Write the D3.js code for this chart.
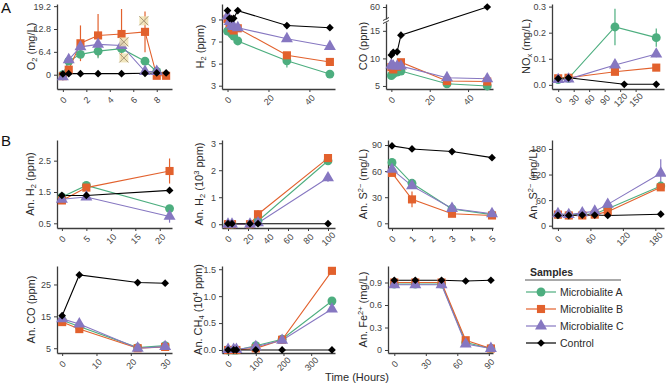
<!DOCTYPE html>
<html>
<head>
<meta charset="utf-8">
<script src="https://cdn.jsdelivr.net/npm/d3@7"></script>
<style>
  body { margin: 0; background: #fff; }
  svg { font-family: "Liberation Sans", Arial, sans-serif; }
</style>
</head>
<body>
<svg id="chart" width="666" height="384"></svg>
<script>
const seriesNames = ['Microbialite A', 'Microbialite B', 'Microbialite C', 'Control'];
const seriesColors = ['#4dae7f', '#e2612d', '#8677c1', '#000000'];

// each row: hours, A, B, C, control (null = not measured)
const o2Rows = [
  [0, 0.0, -0.4, -0.6, 0.2],
  [0.5, 3.8, 1.4, 4.2, 0.3],
  [1.5, 5.7, 8.8, 7.8, 0.3],
  [3, 6.6, 11.0, 8.5, 0.3],
  [5, 7.3, 11.4, 8.2, 0.3],
  [7, 3.8, 12.0, 0.9, 0.4],
  [8, 0.9, -0.3, 0.9, 0.5],
  [8.8, null, -0.3, null, 0.5]
];
// error bars: hours, series index, sd
const o2Err = [[0, 1, 1.0], [0, 2, 1.0], [0.5, 2, 1.5], [1.5, 1, 5.0], [3, 1, 6.0], [3, 0, 2.0], [5, 1, 7.0], [7, 1, 5.7], [7, 0, 1.0]];
// excluded O2 readings (hours, mg/L)
const o2Excluded = [[5.2, 9.2], [5.2, 4.7], [6.9, 15.1]];

const h2Rows = [
  [0, 7.95, 9.05, 9.3, 9.8],
  [1, null, 8.65, 8.8, 9.1],
  [2, 7.7, 8.2, 8.5, 9.05],
  [3, 7.5, 8.0, 8.35, 9.1],
  [5, 7.05, 8.2, 8.25, 9.8],
  [29, 5.25, 5.75, 7.25, 8.45],
  [50, 4.05, 5.15, 6.55, 8.25]
];
const h2Err = [[29, 0, 0.6]];

const coRows = [
  [0, 6.9, 8.4, 8.8, 10.6],
  [1, 7.2, 8.0, 8.6, 11.1],
  [3, 7.5, 8.5, 8.6, 11.2],
  [5, 7.7, 9.3, 8.6, 14.2],
  [29, 5.4, 5.9, 6.5, null],
  [50, 5.0, 5.8, 6.3, 60]
];

const noxRows = [
  [0, 0.020, 0.025, 0.020, 0.024],
  [20, 0.025, 0.027, 0.022, 0.027],
  [110, 0.222, 0.050, 0.076, null],
  [128, null, null, null, 0.002],
  [190, 0.181, 0.066, 0.118, 0.002]
];
const noxErr = [[110, 0, 0.07], [190, 0, 0.035], [190, 2, 0.012], [190, 1, 0.01]];

const anH2Rows = [
  [0, 1.34, 1.23, 1.27, 1.39],
  [5, 1.71, 1.64, 1.34, 1.39],
  [22, 0.97, 2.17, 0.72, 1.55]
];
const anH2Err = [[22, 1, 0.4], [22, 2, 0.2], [0, 1, 0.05]];

const anH2kRows = [
  [0, 0, 0, 0, 0.02],
  [4, 0, 0, 0, 0.02],
  [22, 0, 0, 0, 0.02],
  [30, 0.12, 0.37, 0.05, 0.02],
  [100, 2.35, 2.45, 1.72, 0.02]
];
const anH2kErr = [[100, 1, 0.1], [100, 2, 0.15], [30, 1, 0.15]];

const anS1Rows = [
  [0, 70, 58, 62, 89],
  [1, 46, 27.5, 43, 85.5],
  [3, 16.5, 11, 17, 82.5],
  [5, 10, 9, 11, 75.5]
];
const anS1Err = [[1, 1, 9], [0, 0, 3]];

const anS2Rows = [
  [0, 26, 26, 28, 24],
  [20, 25, 24, 26, 24],
  [45, 26, 24, 30, 25],
  [68, 28, 26, 34, 25],
  [92, 40, 33, 50, 24],
  [190, 93, 90, 123, 27]
];
const anS2Err = [[190, 2, 33], [190, 1, 6], [92, 2, 8]];

const anCoRows = [
  [0, 13.8, 13.2, 14.2, 15.2],
  [5, 11.8, 11.0, 12.6, 28.0],
  [22, 5.2, 5.0, 5.0, 25.6],
  [30, 5.8, 5.4, 5.5, 25.4]
];

const anCh4Rows = [
  [0, 0, 0, 0.01, 0],
  [20, 0, 0, 0.01, 0],
  [30, 0, 0, 0.01, 0],
  [100, 0.08, 0.03, 0.06, 0],
  [195, 0.2, 0.19, 0.18, 0],
  [375, 0.91, 1.47, 0.76, 0]
];

const anFeRows = [
  [0, 0.88, 0.90, 0.87, 0.93],
  [20, 0.88, 0.90, 0.87, 0.93],
  [45, 0.88, 0.90, 0.87, 0.93],
  [68, 0.10, 0.13, 0.08, 0.92],
  [92, 0.02, 0.02, 0.02, 0.93]
];

const f1 = d3.format('.1f');
const plain = d => String(d);

const panels = [
  { rows: o2Rows, err: o2Err, left: 57, right: 172, top: 4, bottom: 89, xDomain: [-0.5, 9.3], yDomain: [-4, 19.8],
    xTicks: [0, 2, 4, 6, 8], yTicks: [0, 6.4, 12.8, 19.2], title: ['O', ['2', 'sub'], ' (mg/L)'], titleX: 31 },
  { rows: h2Rows, err: h2Err, left: 222, right: 335, top: 4, bottom: 89, xDomain: [-2.7, 52.5], yDomain: [2.7, 10.4],
    xTicks: [0, 20, 40], yTicks: [3, 5, 7, 9], title: ['H', ['2', 'sub'], ' (ppm)'], titleX: 200 },
  { rows: coRows, err: [], left: 386, right: 493, top: 22, bottom: 89, xDomain: [-2.8, 53], yDomain: [4.45, 16.6],
    upper: { domain: [56, 61], range: [19, 4], ticks: [60] },
    xTicks: [0, 20, 40], yTicks: [5, 10, 15], title: ['CO (ppm)'], titleX: 363, titleY: 46 },
  { rows: noxRows, err: noxErr, left: 552, right: 664, top: 4, bottom: 89, xDomain: [-12, 205], yDomain: [-0.016, 0.31],
    xTicks: [0, 30, 60, 90, 120, 150], yTicks: [0, 0.1, 0.2, 0.3], yFormat: f1, title: ['NO', ['x', 'sub'], ' (mg/L)'], titleX: 526 },
  { rows: anH2Rows, err: anH2Err, left: 57, right: 172, top: 140, bottom: 228, xDomain: [-1, 22.5], yDomain: [0.35, 3.16],
    xTicks: [0, 5, 10, 15, 20], yTicks: [0.5, 1.5, 2.5], title: ['An. H', ['2', 'sub'], ' (ppm)'], titleX: 30 },
  { rows: anH2kRows, err: anH2kErr, left: 222, right: 335, top: 140, bottom: 228, xDomain: [-6, 107], yDomain: [-0.14, 3.12],
    xTicks: [0, 20, 40, 60, 80, 100], yTicks: [0, 1, 2, 3], title: ['An. H', ['2', 'sub'], ' (10', ['3', 'sup'], ' ppm)'], titleX: 199 },
  { rows: anS1Rows, err: anS1Err, left: 388, right: 493, top: 140, bottom: 228, xDomain: [-0.2, 5.05], yDomain: [-5.4, 95.8],
    xTicks: [0, 1, 2, 3, 4, 5], yTicks: [0, 30, 60, 90], title: ['An. S', ['2\u2212', 'sup'], ' (mg/L)'], titleX: 363 },
  { rows: anS2Rows, err: anS2Err, left: 552, right: 664, top: 140, bottom: 228, xDomain: [-11, 196], yDomain: [-5.4, 201],
    xTicks: [0, 60, 120, 180], yTicks: [0, 60, 120, 180], title: ['An. S', ['2\u2212', 'sup'], ' (mg/L)'], titleX: 533 },
  { rows: anCoRows, err: [], left: 57, right: 172, top: 266, bottom: 353, xDomain: [-1.5, 32], yDomain: [3.5, 30.8],
    xTicks: [0, 10, 20, 30], yTicks: [5, 15, 25], title: ['An. CO (ppm)'], titleX: 31 },
  { rows: anCh4Rows, err: [], left: 222, right: 335, top: 266, bottom: 353, xDomain: [-22, 386], yDomain: [-0.056, 1.56],
    xTicks: [0, 100, 200, 300], yTicks: [0, 0.5, 1, 1.5], yFormat: f1, title: ['An. CH', ['4', 'sub'], ' (10', ['4', 'sup'], ' ppm)'], titleX: 198 },
  { rows: anFeRows, err: [], left: 388, right: 493, top: 266, bottom: 353, xDomain: [-6, 94], yDomain: [-0.04, 1.12],
    xTicks: [0, 30, 60, 90], yTicks: [0, 0.3, 0.6, 0.9], yFormat: d => d === 0 ? '0' : f1(d), title: ['An. Fe', ['2+', 'sup'], ' (mg/L)'], titleX: 363 }
];

const svg = d3.select('#chart');

// marker for a series index
function marker(sel, s) {
  const shapes = [d3.symbolCircle, d3.symbolSquare, d3.symbolTriangle, d3.symbolSquare];
  const sizes = [62, 66, 62, 30];
  sel.append('path')
    .attr('d', d3.symbol(shapes[s], sizes[s]))
    .attr('transform', s === 3 ? 'rotate(45)' : null)
    .attr('fill', seriesColors[s]);
}

function styleAxis(ax) {
  ax.select('.domain').attr('stroke', '#3c3c3c').attr('stroke-width', 1.3);
  ax.selectAll('.tick line').attr('stroke', '#3c3c3c').attr('stroke-width', 1);
  ax.selectAll('.tick text').attr('fill', '#444').attr('font-size', 9);
}

function addTitle(g, parts, x, y) {
  const t = g.append('text')
    .attr('transform', `translate(${x},${y}) rotate(-90)`)
    .attr('text-anchor', 'middle')
    .attr('dy', '0.35em')
    .attr('font-size', 11)
    .attr('fill', '#2a2a2a');
  parts.forEach(part => {
    if (typeof part === 'string') t.append('tspan').text(part);
    else t.append('tspan')
      .attr('font-size', 7.5)
      .attr('baseline-shift', part[1] === 'sub' ? '-22%' : '45%')
      .text(part[0]);
  });
}

function drawPanel(p) {
  const g = svg.append('g');
  const x = d3.scaleLinear().domain(p.xDomain).range([p.left, p.right]);
  const y = d3.scaleLinear().domain(p.yDomain).range([p.bottom, p.top]);
  let yPos = y;
  let yUp = null;
  if (p.upper) {
    yUp = d3.scaleLinear().domain(p.upper.domain).range(p.upper.range);
    yPos = v => (v >= p.upper.domain[0] ? yUp(v) : y(v));
  }

  // x axis
  const xa = g.append('g')
    .attr('transform', `translate(0,${p.bottom})`)
    .call(d3.axisBottom(x).tickValues(p.xTicks).tickSize(3).tickSizeOuter(0).tickFormat(plain));
  xa.selectAll('.tick text')
    .attr('y', 0).attr('dy', 0)
    .attr('text-anchor', 'middle')
    .attr('dominant-baseline', 'central')
    .attr('transform', 'translate(0,11) rotate(-45)');
  styleAxis(xa);

  // y axis
  const ya = g.append('g')
    .attr('transform', `translate(${p.left},0)`)
    .call(d3.axisLeft(y).tickValues(p.yTicks).tickSize(3).tickSizeOuter(0).tickFormat(p.yFormat || plain));
  styleAxis(ya);
  if (yUp) {
    const yb = g.append('g')
      .attr('transform', `translate(${p.left},0)`)
      .call(d3.axisLeft(yUp).tickValues(p.upper.ticks).tickSize(3).tickSizeOuter(0).tickFormat(plain));
    styleAxis(yb);
    // break marks
    [p.top, p.upper.range[0]].forEach(yy => {
      g.append('line')
        .attr('x1', p.left - 3).attr('x2', p.left + 3)
        .attr('y1', yy + 1.5).attr('y2', yy - 1.5)
        .attr('stroke', '#3c3c3c').attr('stroke-width', 1);
    });
  }

  addTitle(g, p.title, p.titleX, p.titleY || (p.top + p.bottom) / 2);

  // error bars
  g.selectAll('.err').data(p.err).join('line')
    .attr('x1', d => x(d[0])).attr('x2', d => x(d[0]))
    .attr('y1', d => {
      const r = p.rows.find(r => r[0] === d[0]);
      return yPos(r[d[1] + 1] - d[2]);
    })
    .attr('y2', d => {
      const r = p.rows.find(r => r[0] === d[0]);
      return yPos(r[d[1] + 1] + d[2]);
    })
    .attr('stroke', d => seriesColors[d[1]])
    .attr('stroke-width', 1.2);

  const line = d3.line().x(d => x(d[0])).y(d => yPos(d[1]));
  const seriesPts = [0, 1, 2, 3].map(s =>
    p.rows.filter(r => r[s + 1] !== null).map(r => [r[0], r[s + 1]]));

  seriesPts.forEach((pts, s) => {
    g.append('path').datum(pts)
      .attr('d', line)
      .attr('fill', 'none')
      .attr('stroke', seriesColors[s])
      .attr('stroke-width', 1.1);
  });

  seriesPts.forEach((pts, s) => {
    g.selectAll(null).data(pts).join('g')
      .attr('transform', d => `translate(${x(d[0])},${yPos(d[1])})`)
      .each(function () { marker(d3.select(this), s); });
  });

  return { g, x, y: yPos };
}

const drawn = panels.map(drawPanel);

// excluded O2 readings, crossed boxes
const o2p = drawn[0];
const ex = o2p.g.selectAll(null).data(o2Excluded).join('g')
  .attr('transform', d => `translate(${o2p.x(d[0])},${o2p.y(d[1])})`);
ex.append('rect').attr('x', -4.5).attr('y', -4.5).attr('width', 9).attr('height', 9)
  .attr('fill', '#efe2b2').attr('opacity', 0.85);
ex.append('path').attr('d', 'M-4.5,-4.5L4.5,4.5M4.5,-4.5L-4.5,4.5')
  .attr('stroke', '#a8977a').attr('stroke-width', 1);

// panel letters
svg.append('text').attr('x', 1).attr('y', 13).attr('font-size', 15).attr('fill', '#111').text('A');
svg.append('text').attr('x', 1).attr('y', 146).attr('font-size', 15).attr('fill', '#111').text('B');

// shared x title
svg.append('text').attr('x', 357).attr('y', 381).attr('text-anchor', 'middle')
  .attr('font-size', 11).attr('fill', '#2a2a2a').text('Time (Hours)');

// legend
const lg = svg.append('g');
lg.append('text').attr('x', 530).attr('y', 276).attr('font-size', 10.5).attr('font-weight', 'bold')
  .attr('fill', '#2a2a2a').text('Samples');
lg.append('line').attr('x1', 525).attr('x2', 621).attr('y1', 280).attr('y2', 280)
  .attr('stroke', '#555').attr('stroke-width', 1);
const legendY = d3.scalePoint().domain(seriesNames).range([292, 343]);
seriesNames.forEach((name, s) => {
  const row = lg.append('g').attr('transform', `translate(0,${legendY(name)})`);
  row.append('line').attr('x1', 526).attr('x2', 556)
    .attr('stroke', seriesColors[s]).attr('stroke-width', 1.2);
  marker(row.append('g').attr('transform', 'translate(541,0)'), s);
  row.append('text').attr('x', 560).attr('dy', '0.35em').attr('font-size', 10.5)
    .attr('fill', '#2a2a2a').text(name);
});
</script>
</body>
</html>
